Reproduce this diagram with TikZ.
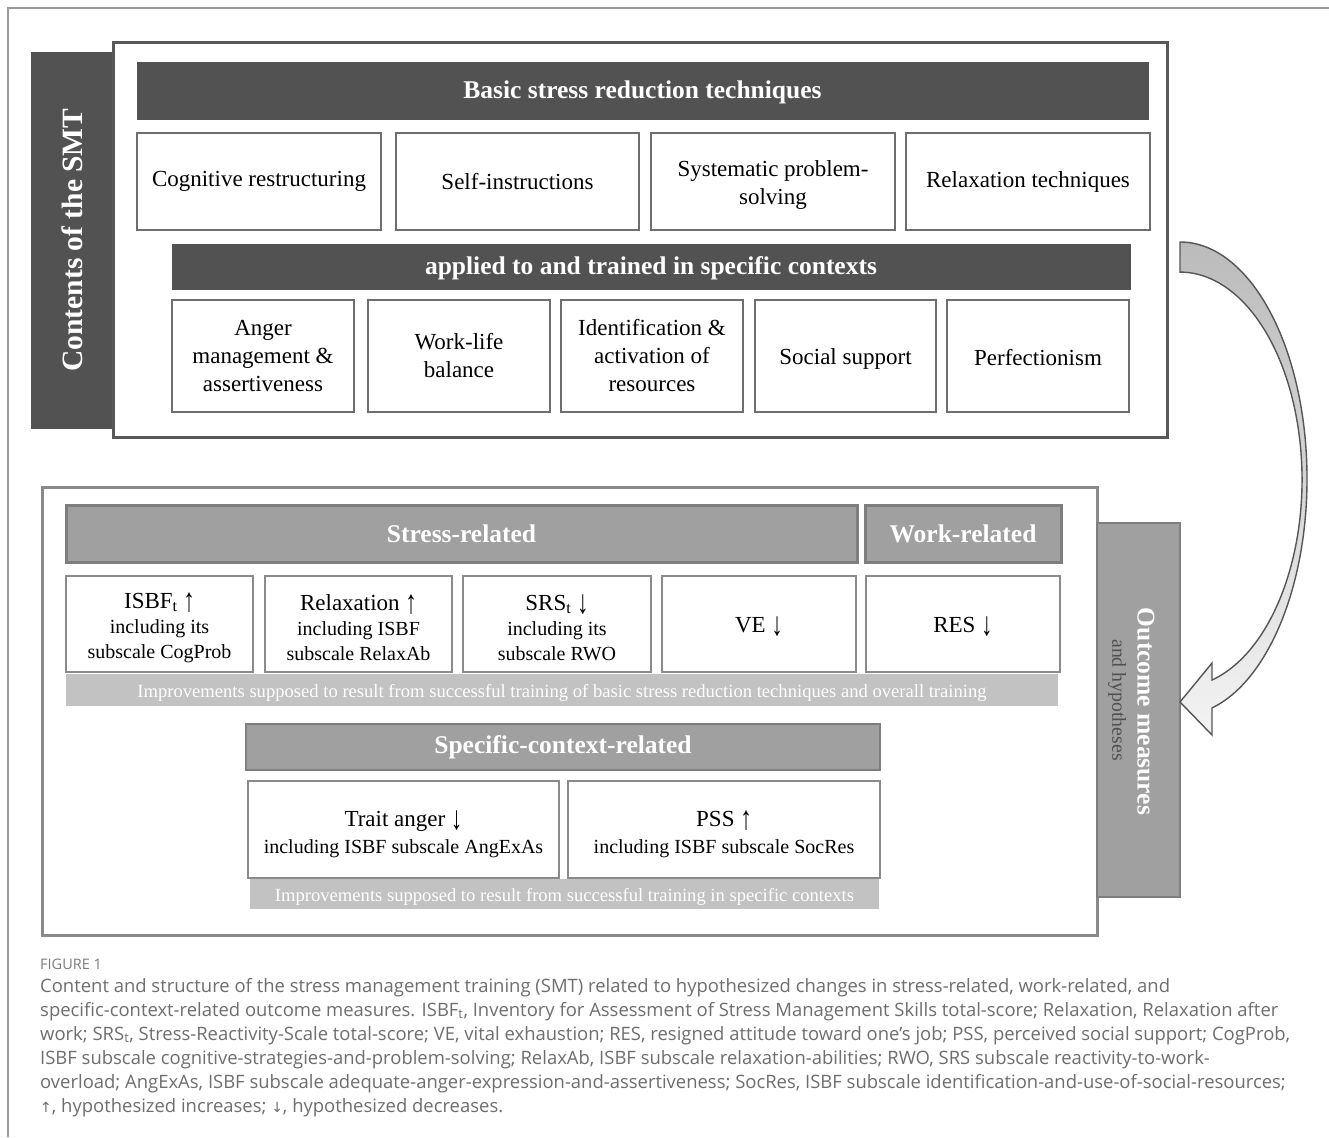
\documentclass[tikz,border=0pt]{standalone}
\usepackage{graphicx}
\usepackage{fontspec}
\setmainfont{Liberation Serif}
\newfontfamily\capfont{Open Sans}
\newfontfamily\symfont{DejaVu Sans}
\definecolor{dk}{HTML}{525252}
\definecolor{topline}{HTML}{585858}
\definecolor{boxline}{HTML}{6E6E6E}
\definecolor{midfill}{HTML}{A0A0A0}
\definecolor{midline}{HTML}{7E7E7E}
\definecolor{lowline}{HTML}{8A8A8A}
\definecolor{bandfill}{HTML}{C2C2C2}
\definecolor{captxt}{HTML}{6E6E6E}
\definecolor{frameline}{HTML}{9A9A9A}
\definecolor{arrowline}{HTML}{555555}
\definecolor{otext}{HTML}{505050}
\definecolor{arrtop}{HTML}{BBBBBB}
\definecolor{arrbot}{HTML}{F3F3F3}
\tikzset{
  darkbar/.style={draw=dk, fill=dk, text=white, inner sep=0pt,
    font=\fontsize{25.5}{30}\selectfont\bfseries},
  topitem/.style={draw=boxline, line width=2pt, fill=white, align=center, inner sep=0pt,
    font=\fontsize{23}{28}\selectfont},
  midbar/.style={draw=midline, line width=3pt, fill=midfill, text=white, inner sep=0pt,
    font=\fontsize{25.5}{30}\selectfont\bfseries},
  lowitem/.style={draw=lowline, line width=2pt, fill=white, inner sep=0pt},
  itemtext/.style={align=center, inner sep=0pt, font=\fontsize{20}{25}\selectfont},
  bandbox/.style={fill=bandfill, inner sep=0pt},
  bandtext/.style={text=white, inner sep=0pt, font=\fontsize{18.6}{22}\selectfont},
  captext/.style={anchor=base west, inner sep=0pt, text=captxt,
    font=\capfont\fontsize{18.45}{22}\selectfont},
}
\newcommand{\uA}{\raisebox{-0.13em}{\scalebox{1}[1.45]{↑}}}
\newcommand{\dA}{\raisebox{-0.13em}{\scalebox{1}[1.45]{↓}}}
\newcommand{\up}{{\symfont\fontsize{14}{16}\selectfont ↑}}
\newcommand{\dn}{{\symfont\fontsize{14}{16}\selectfont ↓}}
\begin{document}
\begin{tikzpicture}[x=1pt,y=1pt]
\useasboundingbox (0,0) rectangle (1329,-1137);
\fill[white] (0,0) rectangle (1329,-1137);
\draw[frameline, line width=2pt] (8,-1137) -- (8,-8) -- (1329,-8);

% ---------- upper part ----------
\node[darkbar, rotate=90, minimum width=376, minimum height=82,
  font=\fontsize{29.5}{32}\selectfont\bfseries] (ctab) at (72,-240) {Contents of the SMT};
\node[draw=topline, line width=3pt, fill=white, minimum width=1054, minimum height=394, inner sep=0pt]
  (topbox) at (640,-240) {};
\node[darkbar, minimum width=1011, minimum height=57] (basic) at (642.5,-90.5) {};
\node[text=white, inner sep=0pt, font=\fontsize{25.5}{30}\selectfont\bfseries] (basic-t)
  at ([yshift=-2]basic.center) {Basic stress reduction techniques};
\node[topitem, minimum width=244, minimum height=97] (cog) at (259,-181.5) {Cognitive restructuring};
\node[topitem, minimum width=243, minimum height=97] (self) at (517.5,-181.5) {Self-instructions};
\node[topitem, minimum width=244, minimum height=97] (sys) at (773,-181.5) {};
\node[itemtext, font=\fontsize{23}{28}\selectfont] (sys-t) at ([yshift=-4]sys.center) {Systematic problem-\\solving};
\node[topitem, minimum width=244, minimum height=97] (relax) at (1028,-181.5) {Relaxation techniques};
\node[darkbar, minimum width=958, minimum height=45] (applied) at (651,-266.5) {};
\node[text=white, inner sep=0pt, font=\fontsize{25.5}{30}\selectfont\bfseries] (applied-t)
  at ([yshift=-2]applied.center) {applied to and trained in specific contexts};
\node[topitem, minimum width=182, minimum height=112] (anger) at (263,-356) {Anger\\management \&\\assertiveness};
\node[topitem, minimum width=182, minimum height=112] (wlb) at (459,-356) {Work-life\\balance};
\node[topitem, minimum width=182, minimum height=112] (ident) at (652,-356) {Identification \&\\activation of\\resources};
\node[topitem, minimum width=181, minimum height=112] (social) at (845.5,-356) {};
\node[itemtext, font=\fontsize{23}{28}\selectfont] (social-t) at ([yshift=-2.5]social.center) {Social support};
\node[topitem, minimum width=182, minimum height=112] (perf) at (1038,-356) {};
\node[itemtext, font=\fontsize{23}{28}\selectfont] (perf-t) at ([yshift=-1.5]perf.center) {Perfectionism};

% ---------- lower part ----------
\node[draw=lowline, line width=3pt, fill=white, minimum width=1055, minimum height=448, inner sep=0pt]
  (lowbox) at (569.5,-711) {};
\node[draw=midline, line width=2.5pt, fill=midfill, rotate=-90, minimum width=374, minimum height=83, inner sep=0pt]
  (otab) at (1138.5,-710) {};
\node[rotate=-90, inner sep=0pt, text=white, font=\fontsize{25.5}{30}\selectfont\bfseries]
  (otxt1) at (1146,-711.5) {Outcome measures};
\node[rotate=-90, inner sep=0pt, text=otext, font=\fontsize{19.8}{30}\selectfont]
  (otxt2) at (1117,-700) {and hypotheses};

\node[midbar, minimum width=791, minimum height=57] (stress) at (461.5,-533.5) {Stress-related};
\node[midbar, minimum width=196, minimum height=57] (work) at (963,-533.5) {Work-related};

\node[bandbox, minimum width=992, minimum height=32] (band1) at (562,-690) {};
\node[bandtext] (band1-t) at (562,-692.5)
  {Improvements supposed to result from successful training of basic stress reduction techniques and overall training};

\node[lowitem, minimum width=187, minimum height=96] (isbf) at (159.5,-624) {};
\node[itemtext] (isbf-t) at ([yshift=-3.5]isbf.center)
  {{\fontsize{23}{25}\selectfont ISBF\textsubscript{t} \uA}\\including its\\subscale CogProb};
\node[lowitem, minimum width=187, minimum height=96] (relaxation) at (358.5,-624) {};
\node[itemtext] (relaxation-t) at ([yshift=-3.5]relaxation.center)
  {{\fontsize{23}{25}\selectfont Relaxation \uA}\\including ISBF\\subscale RelaxAb};
\node[lowitem, minimum width=188, minimum height=96] (srs) at (557,-624) {};
\node[itemtext] (srs-t) at ([yshift=-3.5]srs.center)
  {{\fontsize{23}{25}\selectfont SRS\textsubscript{t} \dA}\\including its\\subscale RWO};
\node[lowitem, minimum width=194, minimum height=96] (ve) at (759,-624) {};
\node[itemtext, font=\fontsize{23}{25}\selectfont] (ve-t) at ([yshift=-2.5]ve.center) {VE \dA};
\node[lowitem, minimum width=194, minimum height=96] (res) at (963,-624) {};
\node[itemtext, font=\fontsize{23}{25}\selectfont] (res-t) at ([yshift=-2.5]res.center) {RES \dA};

\node[midbar, line width=2.5pt, minimum width=634, minimum height=46] (specific) at (563,-747) {Specific-context-related};

\node[bandbox, minimum width=629, minimum height=30] (band2) at (564.5,-894) {};
\node[bandtext] (band2-t) at (564.5,-896.5)
  {Improvements supposed to result from successful training in specific contexts};

\node[lowitem, minimum width=311, minimum height=97] (trait) at (403.5,-829.5) {};
\node[itemtext, font=\fontsize{20}{27}\selectfont] (trait-t) at ([yshift=-4.5]trait.center)
  {{\fontsize{23}{27}\selectfont Trait anger \dA}\\including ISBF subscale AngExAs};
\node[lowitem, minimum width=312, minimum height=97] (pss) at (724,-829.5) {};
\node[itemtext, font=\fontsize{20}{27}\selectfont] (pss-t) at ([yshift=-4.5]pss.center)
  {{\fontsize{23}{27}\selectfont PSS \uA}\\including ISBF subscale SocRes};

% ---------- curved block arrow ----------
\coordinate (arrstart) at (1180,-242);
\coordinate (arrtip) at (1180,-702);
\path[draw=arrowline, line width=1.4pt, line join=miter, top color=arrtop, bottom color=arrbot]
  (arrstart) arc[start angle=90, end angle=-75.4, x radius=127, y radius=236.8]
  -- (1212,-735) -- (arrtip) -- (1212,-663) -- (1212,-680)
  arc[start angle=-74.8, end angle=90, x radius=122, y radius=207.6] -- cycle;

% ---------- caption ----------
\node[captext, text=captxt!90, font=\capfont\fontsize{14.5}{16}\selectfont] (fig) at (40,-969) {FIGURE 1};
\node[captext] (c1) at (40,-992) {Content and structure of the stress management training (SMT) related to hypothesized changes in stress-related, work-related, and};
\node[captext] (c2) at (40,-1016) {specific-context-related outcome measures. ISBF\textsubscript{t}, Inventory for Assessment of Stress Management Skills total-score; Relaxation, Relaxation after};
\node[captext] (c3) at (40,-1040) {work; SRS\textsubscript{t}, Stress-Reactivity-Scale total-score; VE, vital exhaustion; RES, resigned attitude toward one’s job; PSS, perceived social support; CogProb,};
\node[captext] (c4) at (40,-1064) {ISBF subscale cognitive-strategies-and-problem-solving; RelaxAb, ISBF subscale relaxation-abilities; RWO, SRS subscale reactivity-to-work-};
\node[captext] (c5) at (40,-1088) {overload; AngExAs, ISBF subscale adequate-anger-expression-and-assertiveness; SocRes, ISBF subscale identification-and-use-of-social-resources;};
\node[captext] (c6) at (40,-1112) {\up, hypothesized increases; \dn, hypothesized decreases.};
\end{tikzpicture}
\end{document}
